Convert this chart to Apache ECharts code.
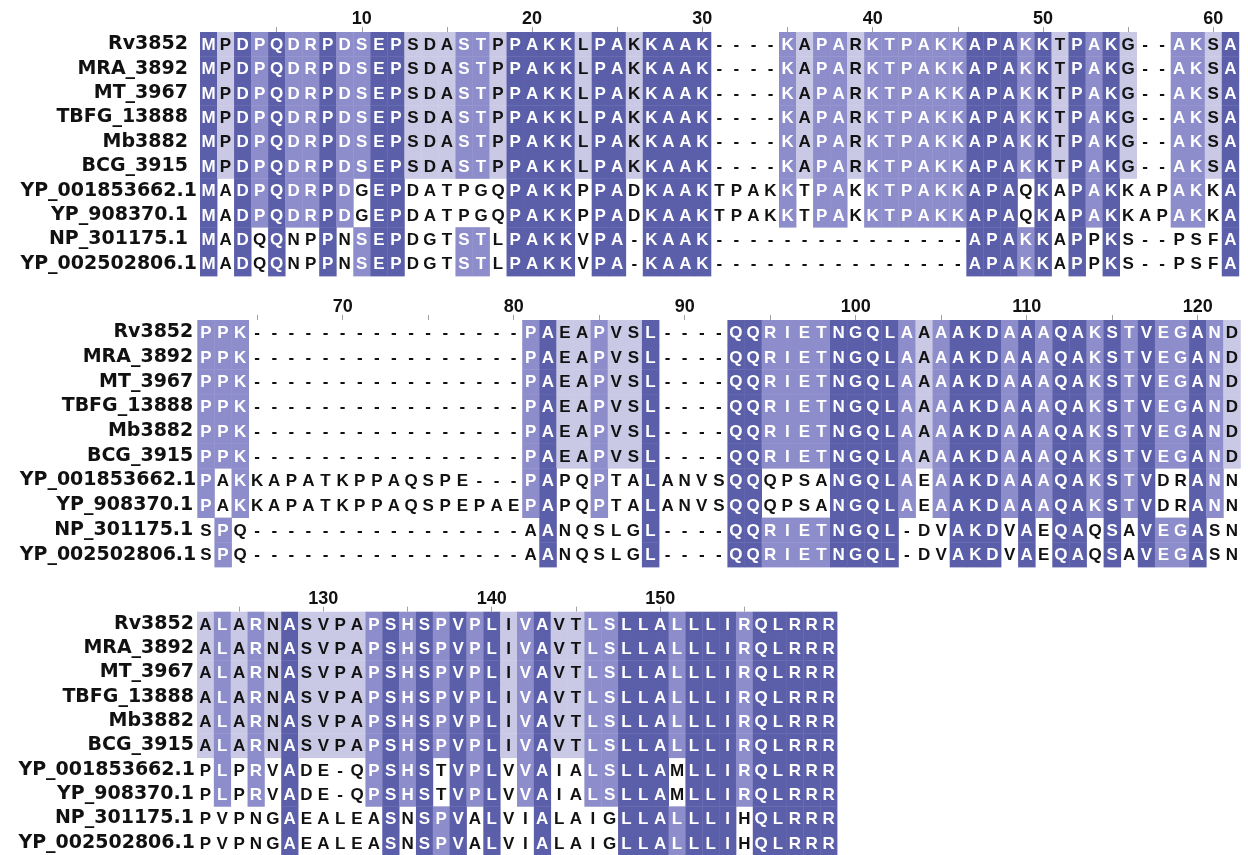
<!DOCTYPE html>
<html><head><meta charset="utf-8">
<script src="https://cdn.jsdelivr.net/npm/echarts@6/dist/echarts.min.js"></script>
<style>html,body{margin:0;padding:0;background:#fff}#c{width:1248px;height:855px}</style>
</head><body><div id="c"></div>
<script>
// ---- data ----
const names = ["Rv3852","MRA_3892","MT_3967","TBFG_13888","Mb3882","BCG_3915",
  "YP_001853662.1","YP_908370.1","NP_301175.1","YP_002502806.1"];

const block1 = [
  "MPDPQDRPDSEPSDASTPPAKKLPAKKAAK----KAPARKTPAKKAPAKKTPAKG--AKSA",
  "MPDPQDRPDSEPSDASTPPAKKLPAKKAAK----KAPARKTPAKKAPAKKTPAKG--AKSA",
  "MPDPQDRPDSEPSDASTPPAKKLPAKKAAK----KAPARKTPAKKAPAKKTPAKG--AKSA",
  "MPDPQDRPDSEPSDASTPPAKKLPAKKAAK----KAPARKTPAKKAPAKKTPAKG--AKSA",
  "MPDPQDRPDSEPSDASTPPAKKLPAKKAAK----KAPARKTPAKKAPAKKTPAKG--AKSA",
  "MPDPQDRPDSEPSDASTPPAKKLPAKKAAK----KAPARKTPAKKAPAKKTPAKG--AKSA",
  "MADPQDRPDGEPDATPGQPAKKPPADKAAKTPAKKTPAKKTPAKKAPAQKAPAKKAPAKKA",
  "MADPQDRPDGEPDATPGQPAKKPPADKAAKTPAKKTPAKKTPAKKAPAQKAPAKKAPAKKA",
  "MADQQNPPNSEPDGTSTLPAKKVPA-KAAK---------------APAKKAPPKS--PSFA",
  "MADQQNPPNSEPDGTSTLPAKKVPA-KAAK---------------APAKKAPPKS--PSFA"
];
const block2 = [
  "PPK----------------PAEAPVSL----QQRIETNGQLAAAAKDAAAQAKSTVEGAND",
  "PPK----------------PAEAPVSL----QQRIETNGQLAAAAKDAAAQAKSTVEGAND",
  "PPK----------------PAEAPVSL----QQRIETNGQLAAAAKDAAAQAKSTVEGAND",
  "PPK----------------PAEAPVSL----QQRIETNGQLAAAAKDAAAQAKSTVEGAND",
  "PPK----------------PAEAPVSL----QQRIETNGQLAAAAKDAAAQAKSTVEGAND",
  "PPK----------------PAEAPVSL----QQRIETNGQLAAAAKDAAAQAKSTVEGAND",
  "PAKKAPATKPPAQSPE---PAPQPTALANVSQQQPSANGQLAEAAKDAAAQAKSTVDRANN",
  "PAKKAPATKPPAQSPEPAEPAPQPTALANVSQQQPSANGQLAEAAKDAAAQAKSTVDRANN",
  "SPQ----------------AANQSLGL----QQRIETNGQL-DVAKDVAEQAQSAVEGASN",
  "SPQ----------------AANQSLGL----QQRIETNGQL-DVAKDVAEQAQSAVEGASN"
];
const block3 = [
  "ALARNASVPAPSHSPVPLIVAVTLSLLALLLIRQLRRR",
  "ALARNASVPAPSHSPVPLIVAVTLSLLALLLIRQLRRR",
  "ALARNASVPAPSHSPVPLIVAVTLSLLALLLIRQLRRR",
  "ALARNASVPAPSHSPVPLIVAVTLSLLALLLIRQLRRR",
  "ALARNASVPAPSHSPVPLIVAVTLSLLALLLIRQLRRR",
  "ALARNASVPAPSHSPVPLIVAVTLSLLALLLIRQLRRR",
  "PLPRVADE-QPSHSTVPLVVAIALSLLAMLLIRQLRRR",
  "PLPRVADE-QPSHSTVPLVVAIALSLLAMLLIRQLRRR",
  "PVPNGAEALEASNSPVALVIALAIGLLALLLIHQLRRR",
  "PVPNGAEALEASNSPVALVIALAIGLLALLLIHQLRRR"
];
const blockStarts = [1, 62, 123];

// percentage-identity colouring (thresholds in %, colours light -> dark)
const pidThresholds = [40, 60, 80];
const pidColors = ['#c9c9e6', '#8e8dcb', '#5b5ea8'];

// ---- build ----
const blocks = [block1, block2, block3];
const nSeq = names.length;
function levelOf(blockIdx, col, ch) {
  if (ch === '-') return 0;
  let cnt = 0;
  for (let r = 0; r < nSeq; r++) if (blocks[blockIdx][r][col] === ch) cnt++;
  const pct = cnt * 100 / nSeq;
  let lv = 0;
  pidThresholds.forEach((t, i) => { if (pct > t) lv = i + 1; });
  return lv;
}

const layout = [
  {left: 200, width: 1038.8, top: 32, height: 244},
  {left: 197.3, width: 1043.1, top: 320, height: 247},
  {left: 197, width: 640, top: 611.7, height: 244.5}
];
const labelMargins = [[3, 9], [1, 3], [2, 1]]; // [margin, extra right padding for short names]

const grids = [], xAxes = [], yAxes = [], series = [];
blocks.forEach((blk, b) => {
  const len = blk[0].length;
  const cols = [];
  for (let i = 0; i < len; i++) cols.push(String(blockStarts[b] + i));
  const lastVal = blockStarts[b] + len - 1;
  grids.push(Object.assign({containLabel: false}, layout[b]));
  xAxes.push({
    type: 'category', gridIndex: b, data: cols, position: 'top',
    axisLine: {show: false},
    axisTick: {show: true, alignWithLabel: true, length: 5,
      interval: (i, v) => (+v) % 5 === 0 && (+v) !== lastVal,
      lineStyle: {color: '#a0a0a0', width: 1}},
    axisLabel: {interval: (i, v) => (+v) % 10 === 0 && (+v) !== lastVal,
      margin: 4, color: '#111', fontFamily: 'Liberation Sans', fontWeight: 'bold', fontSize: 18},
    splitLine: {show: false}
  });
  const [mg, extra] = labelMargins[b];
  yAxes.push({
    type: 'category', gridIndex: b, data: names, inverse: true,
    axisLine: {show: false}, axisTick: {show: false}, splitLine: {show: false},
    axisLabel: {
      margin: mg, color: '#111',
      formatter: v => v.length > 12 ? '{l|' + v + '}' : '{s|' + v + '}',
      rich: {
        s: {fontFamily: 'DejaVu Sans', fontWeight: 'bold', fontSize: 19, color: '#111', padding: [0, extra, 0, 0]},
        l: {fontFamily: 'DejaVu Sans', fontWeight: 'bold', fontSize: 19, color: '#111'}
      }
    }
  });
  const data = [];
  for (let r = 0; r < nSeq; r++) {
    for (let c = 0; c < len; c++) {
      const ch = blk[r][c];
      data.push([c, r, ch, levelOf(b, c, ch)]);
    }
  }
  series.push({
    type: 'custom', xAxisIndex: b, yAxisIndex: b, data: data,
    encode: {x: 0, y: 1},
    renderItem: function (params, api) {
      const p = api.coord([api.value(0), api.value(1)]);
      const s = api.size([1, 1]);
      const ch = data[params.dataIndex][2];
      const lv = data[params.dataIndex][3];
      const children = [];
      if (lv > 0) {
        children.push({type: 'rect',
          shape: {x: p[0] - s[0] / 2, y: p[1] - s[1] / 2, width: s[0] + 0.4, height: s[1] + 0.4},
          style: {fill: pidColors[lv - 1]}});
      }
      children.push({type: 'text', x: p[0], y: p[1] + 1,
        style: {text: ch, fill: lv >= 2 ? '#ffffff' : '#111111',
          font: 'bold 17px "Liberation Sans"', align: 'center', verticalAlign: 'middle'}});
      return {type: 'group', children: children};
    }
  });
});

const chart = echarts.init(document.getElementById('c'));
chart.setOption({
  backgroundColor: '#ffffff', animation: false,
  grid: grids, xAxis: xAxes, yAxis: yAxes, series: series
});
</script></body></html>
